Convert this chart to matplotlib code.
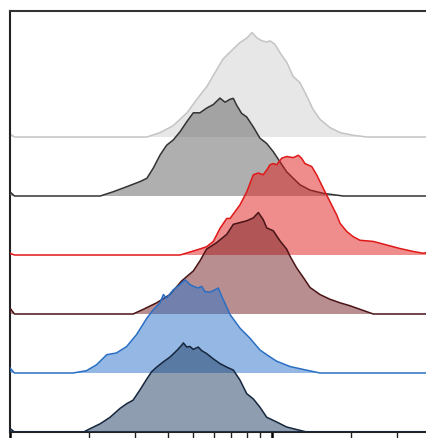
import matplotlib
matplotlib.use("Agg")
import matplotlib.pyplot as plt
from matplotlib.ticker import FixedLocator, NullFormatter

# stacked histograms, top row first (offset 5 .. 0)
light_x = [100, 104, 333, 374, 419, 474, 517, 565, 617, 650, 710, 755, 803, 839, 876, 916, 957,
           983, 1027, 1073, 1141, 1203, 1279, 1360, 1434, 1525, 1665, 1818, 2037, 2305]
light_y = [0.05, 0, 0, 0.075, 0.19, 0.41, 0.64, 0.86, 1.15, 1.32, 1.49, 1.60, 1.68, 1.77, 1.68, 1.63, 1.61,
           1.63, 1.57, 1.43, 1.26, 1.03, 0.92, 0.69, 0.47, 0.30, 0.16, 0.075, 0.03, 0]

dgray_x = [100, 104, 221, 248, 279, 313, 333, 352, 374, 396, 420, 446, 473, 501, 531, 563, 597, 633,
           662, 692, 712, 733, 766, 801, 849, 900, 955, 1012, 1073, 1138, 1206, 1279, 1397, 1570, 1871]
dgray_y = [0.07, 0, 0, 0.073, 0.158, 0.243, 0.30, 0.47, 0.695, 0.86, 0.95, 1.09, 1.26, 1.41, 1.41, 1.49, 1.55, 1.66,
           1.59, 1.64, 1.655, 1.54, 1.40, 1.34, 1.17, 0.98, 0.89, 0.75, 0.58, 0.41, 0.30, 0.19, 0.10, 0.045, 0]

red_x = [100, 104, 446, 516, 563, 597, 615, 633, 672, 692, 755, 801, 849, 887, 926, 955, 983, 1012,
         1042, 1089, 1138, 1206, 1260, 1298, 1336, 1418, 1481, 1570, 1665, 1766, 1818, 1928, 2043,
         2167, 2436, 2741, 3080, 3462, 3780, 4000]
red_y = [0.03, 0, 0, 0.085, 0.14, 0.23, 0.34, 0.45, 0.62, 0.62, 0.85, 1.07, 1.36, 1.39, 1.36, 1.44, 1.53, 1.55,
         1.53, 1.64, 1.67, 1.65, 1.69, 1.64, 1.55, 1.50, 1.36, 1.13, 0.905, 0.68, 0.54, 0.40, 0.31,
         0.25, 0.23, 0.17, 0.11, 0.06, 0.03, 0.05]

dred_x = [100, 104, 295, 323, 363, 408, 452, 501, 531, 563, 615, 672, 712, 755, 801, 849, 887, 926,
          955, 1012, 1073, 1138, 1172, 1243, 1317, 1397, 1525, 1665, 1818, 1985, 2167, 2436]
dred_y = [0.1, 0, 0, 0.08, 0.19, 0.33, 0.56, 0.73, 0.90, 1.10, 1.21, 1.35, 1.52, 1.55, 1.58, 1.63, 1.72, 1.60,
          1.46, 1.41, 1.24, 1.10, 0.98, 0.78, 0.62, 0.45, 0.33, 0.25, 0.19, 0.14, 0.08, 0]

blue_x = [100, 104, 174, 196, 214, 234, 255, 279, 304, 333, 352, 374, 385, 396, 420, 446, 466, 486,
          501, 523, 539, 555, 580, 606, 624, 643, 692, 755, 824, 900, 955, 1042, 1172, 1317, 1525]
blue_y = [0.085, 0, 0, 0.04, 0.14, 0.31, 0.34, 0.45, 0.65, 0.93, 1.07, 1.19, 1.33, 1.27, 1.41, 1.50, 1.58, 1.50,
          1.47, 1.44, 1.47, 1.38, 1.37, 1.41, 1.44, 1.30, 0.99, 0.76, 0.59, 0.39, 0.31, 0.20, 0.11, 0.06, 0]

navy_x = [100, 104, 191, 202, 221, 241, 263, 279, 295, 313, 333, 347, 363, 385, 408, 433, 452, 459,
          473, 486, 501, 523, 539, 563, 597, 633, 672, 712, 755, 801, 849, 900, 955, 1042, 1138, 1279, 1357]
navy_y = [0.06, 0, 0, 0.056, 0.14, 0.25, 0.40, 0.48, 0.54, 0.71, 0.90, 1.02, 1.10, 1.19, 1.27, 1.38, 1.47, 1.51,
          1.44, 1.45, 1.40, 1.44, 1.38, 1.33, 1.24, 1.16, 1.10, 1.05, 0.88, 0.65, 0.56, 0.42, 0.25, 0.17, 0.085, 0.028, 0]

traces = [
    (light_x, light_y, 5, "#d0d0d0", "#c4c4c4"),
    (dgray_x, dgray_y, 4, "#606060", "#333333"),
    (red_x, red_y, 3, "#e01b1b", "#e01818"),
    (dred_x, dred_y, 2, "#741f24", "#4a1416"),
    (blue_x, blue_y, 1, "#2a73c8", "#2a6fc4"),
    (navy_x, navy_y, 0, "#203d64", "#16263d"),
]

fig = plt.figure(figsize=(4.27, 4.39), dpi=100)
# axes runs a little past the right edge of the figure, like the cropped original
ax = fig.add_axes([10 / 427, 6 / 439, 427 / 427, 421 / 439])

for i, (xs, ys, off, fill, edge) in enumerate(traces):
    xs = list(xs) + [4400]
    ys = list(ys) + [ys[-1]]
    top = [off + v for v in ys]
    ax.fill_between(xs, off, top, color=fill, alpha=0.5, lw=0, zorder=2 + i)
    ax.plot(xs, top, color=edge, lw=1.1, zorder=2 + i)

ax.set_xscale("log")
ax.set_xlim(100, 4266)
ax.set_ylim(0, 421 / 59)

ax.xaxis.set_major_locator(FixedLocator([100, 1000]))
ax.xaxis.set_minor_locator(FixedLocator([200, 300, 400, 500, 600, 700, 800, 900, 2000, 3000]))
ax.xaxis.set_major_formatter(NullFormatter())
ax.xaxis.set_minor_formatter(NullFormatter())
ax.tick_params(axis="x", which="major", direction="out", length=8, width=1.8, color="black")
ax.tick_params(axis="x", which="minor", direction="out", length=6, width=1.0, color="#222222")
ax.set_yticks([])

ax.spines["right"].set_visible(False)
for s in ["left", "top", "bottom"]:
    ax.spines[s].set_linewidth(1.5)
ax.spines["top"].set_color("#333333")
ax.spines["left"].set_color("#222222")
ax.spines["bottom"].set_color("#222222")

fig.savefig("out.png", dpi=100)
